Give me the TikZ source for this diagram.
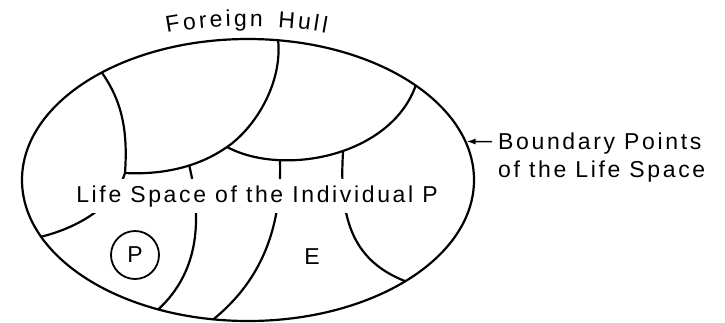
\documentclass[tikz,border=0pt]{standalone}
\usepackage{fontspec}
\setmainfont{Liberation Sans}
\newfontfamily\lblfamily[LetterSpace=11.5]{Liberation Sans}
\newcommand\lblfont{\lblfamily\fontsize{23bp}{28bp}\selectfont}
\usetikzlibrary{shapes.geometric,arrows.meta,decorations.text}
\tikzset{
  region/.style={line width=2.2bp, line cap=round},
  hullshape/.style={draw, ellipse, line width=2.2bp, inner sep=0pt,
    minimum width=452bp, minimum height=282bp},
  label/.style={font=\lblfont, inner sep=0pt},
  person/.style={draw, circle, line width=1.8bp, minimum size=48bp,
    inner sep=0pt, font=\lblfont},
  pointer/.style={line width=1.4bp, -{Latex[length=9bp,width=6bp]}}
}
\begin{document}
\begin{tikzpicture}[x=1bp, y=-1bp]
\useasboundingbox (0,0) rectangle (725,322);

% boundaries between the regions of the life space
\begin{scope}
  \clip (248,180) ellipse [x radius=226bp, y radius=141bp];
  \draw[region] (100,70) .. controls (122,100) and (128,130) .. (125,173)
                .. controls (115,205) and (80,228) .. (36,238);
  \draw[region] (277,32) .. controls (286,80) and (255,128) .. (227,147)
                .. controls (200,166) and (165,175) .. (125,173);
  \draw[region] (227,147) .. controls (285,178) and (398,155) .. (418,78);
  \draw[region] (189.5,166.5) .. controls (202,220) and (200,275) .. (153,314);
  \draw[region] (280,160.5) .. controls (282,230) and (260,285) .. (206,325);
  \draw[region] (343,152.5) .. controls (338,230) and (360,265) .. (410,283);
\end{scope}

% title across the middle, masking the boundaries it crosses
\node[label, fill=white, inner xsep=3bp, inner ysep=6bp, anchor=base]
  (lifespace) at (257,202) {Life Space of the Individual P};

% the life space itself
\node[hullshape] (hull) at (248,180) {};

% the person and the environment
\node[person] (person) at (135,255) {P};
\node[label] (env) at (312,257) {E};

% foreign hull, set along an arc above the life space
\path[decorate, decoration={text along path,
    text={|\lblfont|Foreign Hull}, text align={fit to path}}]
  (167,33) .. controls (215,24) and (278,24) .. (326,33);

% boundary points label and pointer
\node[label, align=left, anchor=north west] (boundary) at (498,132.3)
  {Boundary Points\\of the Life Space};
\coordinate (tail) at (492,141.7);
\draw[pointer] (tail) -- (hull.10);
\end{tikzpicture}
\end{document}
